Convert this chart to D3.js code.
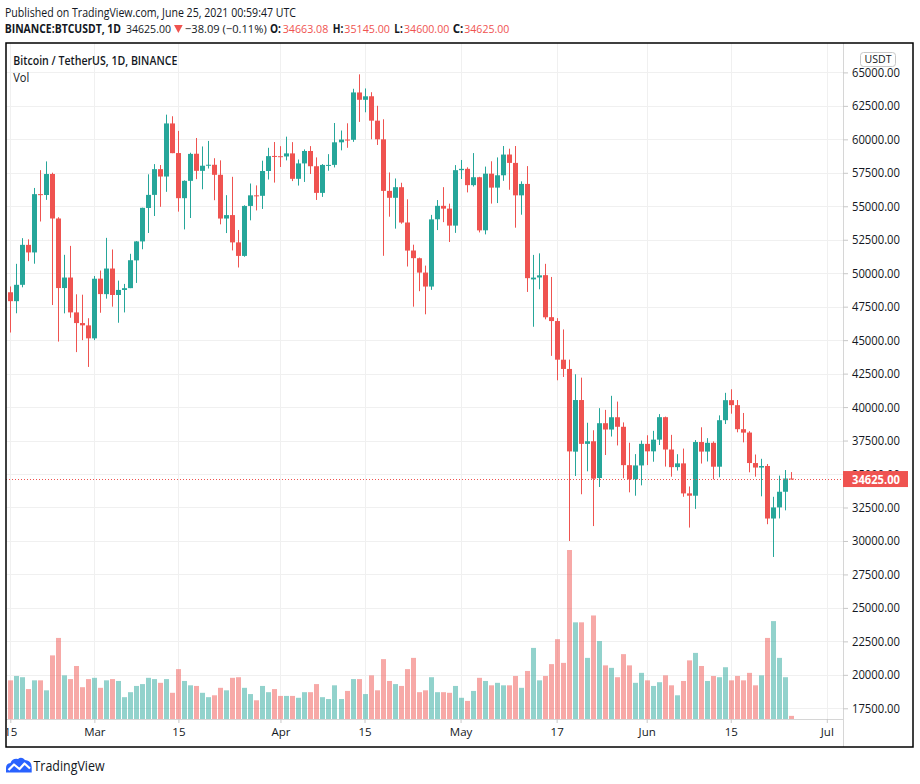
<!DOCTYPE html>
<html><head><meta charset="utf-8">
<script src="https://cdn.jsdelivr.net/npm/d3@7"></script>
<style>
html,body{margin:0;padding:0;background:#fff;}
svg{display:block;font-family:"Open Sans","Noto Sans",sans-serif;}
</style></head>
<body>
<svg id="c" width="920" height="784"></svg>
<script>
// ---- DATA (BINANCE:BTCUSDT, 1D, Feb 15 2021 - Jun 25 2021) ----
const startDay = "2021-02-15";
const endDay = "2021-06-25";
const open = [48577,47911,49133,52117,51552,55906,55841,57412,54087,48891,49677,47073,46277,46103,
45134,49595,48436,50349,48374,48747,48885,50959,52375,54874,55851,57773,57222,61188,58976,55605,56900,58925,57645,58030,58100,57351,54084,54342,52303,51293,55025,55817,55781,57635,58760,
58740,58720,58950,57051,58202,59129,57991,56000,58088,58092,59778,59985,59964,63501,62952,63217,61395,60001,56150,55633,56425,53788,51696,51119,50047,49004,54030,55033,54825,53555,
57697,57797,56578,57169,53205,57436,56393,57315,58866,58240,55816,56670,49538,49682,49855,46716,46427,43538,42849,36671,40526,37253,37449,34700,38796,38324,39241,38529,35661,34606,35641,
37253,36694,37568,39246,36829,35516,35796,33556,33380,37389,36677,37331,35546,39021,40517,40143,38349,38098,35820,35484,35601,31676,32505,33675,34663];
const high = [49010,50700,52618,52530,56368,57700,58352,57508,54183,51374,52041,48424,48395,46638,
49790,50200,52640,51773,49448,49200,51450,52402,54895,57387,58150,58081,61844,61724,60633,56938,58999,60100,59468,59880,58589,58430,55830,57200,53230,55073,56700,56559,58405,59368,59800,
59490,60200,59791,58492,59250,59495,58650,58153,58894,61220,60658,61199,63777,64854,63800,63520,62506,61500,57526,57076,56757,55521,52130,51166,50567,54356,55466,56428,55196,58075,
58458,57911,58973,57200,57963,58360,58650,59500,59300,59500,56862,58000,51367,51483,50700,49720,46643,45799,43547,42451,42200,38829,38270,39920,39791,40841,40411,38856,37338,36488,37499,
37894,38225,39476,39289,37925,36480,36900,34069,37534,38491,37680,37436,39380,41064,41330,40527,39560,38200,36457,36137,35750,33298,34881,35298,35145];
const low = [45570,47007,48947,50901,50710,53863,55477,47622,44892,47003,46674,44106,45000,43000,
45000,47047,48100,47500,46300,47070,48885,49274,51789,53005,54272,54962,56078,58966,54600,53271,54123,57025,56270,57820,55450,53650,53000,51700,50427,51229,53950,54691,54800,57000,56769,
57935,58428,56880,56547,56817,57413,55473,55700,57654,57902,59177,59369,59813,61301,62020,60000,59580,51300,54221,53329,53695,50500,47500,48657,46930,48753,53222,53813,52330,53013,
57037,56035,56478,53046,52900,55200,55241,56900,56235,53400,54370,48600,46000,48799,46555,43825,42001,42250,30000,34850,33488,35200,31111,34031,36419,37800,37134,34684,33632,33379,34153,
35667,35920,37170,35555,34800,35259,33300,31000,32396,35782,35936,34600,34757,38733,39506,38116,37365,35129,34803,33336,31251,28805,31683,32286,34600];
const close = [47911,49133,52119,51552,55906,55841,57408,54087,48891,49676,47073,46276,46106,45135,
49587,48440,50349,48374,48751,48882,50971,52375,54884,55851,57773,57221,61188,58968,55605,56900,58912,57648,58030,58102,57351,54083,54340,52303,51293,55025,55817,55777,57635,58746,58740,
58720,58950,57051,58202,59129,57991,56000,58088,58091,59778,59984,59964,63503,62954,63215,61395,60001,56150,55633,56425,53787,51690,51125,50047,49004,54021,55033,54824,53555,57697,
57797,56578,57169,53200,57436,56393,57314,58862,58240,55816,56670,49631,49671,49841,46708,46426,43541,42849,36690,40526,37252,37449,34655,38796,38324,39241,38529,35663,34605,35641,37253,
36694,37568,39246,36829,35513,35796,33552,33380,37388,36675,37331,35546,39020,40516,40144,38349,38092,35820,35483,35600,31676,32505,33675,34663,34625];
// volume, thousand BTC
const volume = [62,69,67,48,62,62,46,102,130,70, 64,85,51,64,66,50,62,64,61,35, 43,53,56,66,64,58,64,42,80,61,
54,53,42,35,38,50,46,66,67,50, 40,30,53,43,48,37,37,37,34,43, 43,56,35,32,54,32,45,64,64,40,
70,46,96,61,56,53,80,98,43,46, 67,43,43,42,53,34,29,45,66,61, 54,58,54,54,69,50,77,114,62,69,
88,128,90,271,155,155,98,166,125,86, 82,67,104,86,58,74,62,53,59,70, 54,38,61,94,106,85,61,69,67,83,
62,69,62,74,54,70,130,157,98,67, 5];
const priceTicks = [17500,20000,22500,25000,27500,30000,32500,35000,37500,40000,42500,45000,47500,50000,52500,55000,57500,60000,62500,65000];
const timeTickDates = ["2021-02-15","2021-03-01","2021-03-15","2021-04-01","2021-04-15","2021-05-01","2021-05-17","2021-06-01","2021-06-15","2021-07-01"];
const timeTickLabels = ["15","Mar","15","Apr","15","May","17","Jun","15","Jul"];
const lastPrice = 34625;

// ---- LAYOUT ----
const GREEN = "#26a69a", RED = "#ef5350";
const VGREEN = "rgba(38,166,154,0.5)", VRED = "rgba(239,83,80,0.5)";
const frame = {l:6, t:43, r:913, b:747};
const plot = {l:6, t:43, r:843, b:719};
const svg = d3.select("#c");
const parse = d3.utcParse("%Y-%m-%d");
const days = d3.utcDay.range(parse(startDay), d3.utcDay.offset(parse(endDay), 1));
const data = days.map((d,i)=>({date:d, o:open[i], h:high[i], l:low[i], c:close[i], v:volume[i]}));

const x = d3.scaleUtc().domain([parse("2021-02-15"), parse("2021-07-01")]).range([10.3, 826.8]);
const y = d3.scaleLinear().domain([17500, 65000]).range([708.3, 72.4]);
const yv = d3.scaleLinear().domain([0, 271]).range([plot.b, 550]);

const defs = svg.append("defs");
defs.append("clipPath").attr("id","pc")
  .append("rect").attr("x",plot.l).attr("y",plot.t).attr("width",plot.r-plot.l).attr("height",plot.b-plot.t);
defs.append("clipPath").attr("id","fc2")
  .append("rect").attr("x",frame.l+1).attr("y",-10).attr("width",plot.r-frame.l).attr("height",60);

// grid
const grid = svg.append("g").attr("clip-path","url(#pc)");
grid.selectAll(".hg").data(priceTicks).join("line")
  .attr("x1",plot.l).attr("x2",plot.r).attr("y1",d=>Math.round(y(d))+0.5).attr("y2",d=>Math.round(y(d))+0.5)
  .attr("stroke","#f0f0f0").attr("stroke-width",1);
grid.selectAll(".vg").data(timeTickDates.map(parse)).join("line")
  .attr("y1",plot.t).attr("y2",plot.b).attr("x1",d=>Math.round(x(d))+0.5).attr("x2",d=>Math.round(x(d))+0.5)
  .attr("stroke","#f0f0f0").attr("stroke-width",1);

// volume
const g = svg.append("g").attr("clip-path","url(#pc)");
g.selectAll(".vol").data(data).join("rect")
  .attr("x",d=>Math.round(x(d.date))-2).attr("width",5)
  .attr("y",d=>yv(d.v)).attr("height",d=>plot.b-yv(d.v))
  .attr("fill",d=>d.c>=d.o?VGREEN:VRED);

// candles
const cg = g.selectAll(".cd").data(data).join("g");
cg.append("line")
  .attr("x1",d=>Math.round(x(d.date))+0.5).attr("x2",d=>Math.round(x(d.date))+0.5)
  .attr("y1",d=>y(d.h)).attr("y2",d=>y(d.l))
  .attr("stroke",d=>d.c>=d.o?GREEN:RED).attr("stroke-width",1);
cg.append("rect")
  .attr("x",d=>Math.round(x(d.date))-2).attr("width",5)
  .attr("y",d=>y(Math.max(d.o,d.c)))
  .attr("height",d=>Math.max(1, Math.abs(y(d.o)-y(d.c))))
  .attr("fill",d=>d.c>=d.o?GREEN:RED);

// last price dotted line
svg.append("line").attr("x1",plot.l).attr("x2",plot.r)
  .attr("y1",Math.round(y(lastPrice))+0.5).attr("y2",Math.round(y(lastPrice))+0.5)
  .attr("stroke",RED).attr("stroke-width",1).attr("stroke-dasharray","1,2");

// separators
svg.append("line").attr("x1",frame.l).attr("x2",plot.r).attr("y1",plot.b+0.5).attr("y2",plot.b+0.5).attr("stroke","#d6d6d6");
svg.append("line").attr("x1",plot.r+0.5).attr("x2",plot.r+0.5).attr("y1",frame.t).attr("y2",frame.b).attr("stroke","#d6d6d6");

// price axis (label under the last-price badge is mostly hidden by it, as in the reference)
const ly = y(lastPrice);
const pa = svg.append("g").attr("transform",`translate(${plot.r},0)`)
  .call(d3.axisRight(y).tickValues(priceTicks).tickSize(5).tickPadding(4).tickFormat(d=>d.toFixed(2)));
pa.select(".domain").remove();
pa.selectAll(".tick line").attr("stroke","#c8c8c8");
pa.selectAll(".tick text").attr("fill","#131722").attr("font-size","12.5px")
  .attr("font-family","'Open Sans',sans-serif").attr("textLength",48).attr("lengthAdjust","spacingAndGlyphs");

// time axis
const ta = svg.append("g").attr("transform",`translate(0,${plot.b})`).attr("clip-path","url(#fc2)");
ta.call(d3.axisBottom(x).tickValues(timeTickDates.map(parse)).tickSize(4).tickPadding(5)
  .tickFormat((d,i)=>timeTickLabels[i]));
ta.select(".domain").remove();
ta.selectAll(".tick line").attr("stroke","#c8c8c8");
ta.selectAll(".tick text").attr("fill","#131722").attr("font-size","11.5px").attr("font-family","'Open Sans',sans-serif");

// last price label
svg.append("rect").attr("x",plot.r).attr("y",ly-8).attr("width",65).attr("height",16).attr("fill",RED);
svg.append("text").attr("x",plot.r+33).attr("y",ly+4.5).attr("text-anchor","middle")
  .attr("fill","#fff").attr("font-weight","bold").attr("font-size","13px").attr("textLength",48).attr("lengthAdjust","spacingAndGlyphs")
  .text(lastPrice.toFixed(2));

// USDT badge
svg.append("rect").attr("x",860.5).attr("y",52.5).attr("width",35).attr("height",14).attr("rx",3)
  .attr("fill","#fff").attr("stroke","#c8c8c8");
svg.append("text").attr("x",878).attr("y",63.3).attr("text-anchor","middle").attr("font-size","11px")
  .attr("fill","#131722").attr("textLength",27).attr("lengthAdjust","spacingAndGlyphs").text("USDT");

// frame
svg.append("rect").attr("x",frame.l).attr("y",frame.t).attr("width",frame.r-frame.l).attr("height",frame.b-frame.t)
  .attr("fill","none").attr("stroke","#000").attr("stroke-width",1.5);

// titles
svg.append("text").attr("x",5).attr("y",17).attr("font-size","12.5px").attr("fill","#131722")
  .attr("textLength",291).attr("lengthAdjust","spacingAndGlyphs")
  .text("Published on TradingView.com, June 25, 2021 00:59:47 UTC");
const line2 = [
  {t:"BINANCE:BTCUSDT, 1D", x0:4.7, x1:121, w:"bold", c:"#131722"},
  {t:"34625.00", x0:126, x1:171, w:"normal", c:"#131722"},
  {t:"\u221238.09 (\u22120.11%)", x0:185, x1:266.7, w:"normal", c:"#131722"},
  {t:"O:", x0:270, x1:281, w:"bold", c:"#131722"},
  {t:"34663.08", x0:282.7, x1:328.3, w:"normal", c:RED},
  {t:"H:", x0:332.7, x1:343.3, w:"bold", c:"#131722"},
  {t:"35145.00", x0:344.3, x1:390, w:"normal", c:RED},
  {t:"L:", x0:394.3, x1:402.7, w:"bold", c:"#131722"},
  {t:"34600.00", x0:404, x1:449.3, w:"normal", c:RED},
  {t:"C:", x0:452.7, x1:463.3, w:"bold", c:"#131722"},
  {t:"34625.00", x0:464.3, x1:509.3, w:"normal", c:RED}
];
svg.selectAll(".l2").data(line2).join("text")
  .attr("x",d=>d.x0).attr("y",33.3).attr("font-size","11.5px")
  .attr("font-weight",d=>d.w).attr("fill",d=>d.c)
  .attr("textLength",d=>d.x1-d.x0).attr("lengthAdjust","spacingAndGlyphs").text(d=>d.t);
// down-change triangle
svg.append("path").attr("d","M174,25 L182.7,25 L178.35,33 Z").attr("fill",RED);

svg.append("text").attr("x",13.3).attr("y",65).attr("font-size","12.5px").attr("font-weight","600").attr("fill","#131722")
  .attr("textLength",164).attr("lengthAdjust","spacingAndGlyphs").text("Bitcoin / TetherUS, 1D, BINANCE");
svg.append("text").attr("x",13.3).attr("y",81.7).attr("font-size","12.5px").attr("fill","#131722")
  .attr("textLength",16).attr("lengthAdjust","spacingAndGlyphs").text("Vol");

// footer logo
const lg = svg.append("g");
lg.append("path").attr("fill","#2962ff")
  .attr("d","M6,772.5 L6,768 Q6,763.5 10.5,763 Q12.5,758 18,759 Q21.5,756 25,760 Q31.5,760.5 31.7,767 L31.7,772.5 Z");
lg.append("polyline").attr("points","8.5,770 14,764.5 19.5,769 24.5,763.5 30,768.5")
  .attr("fill","none").attr("stroke","#fff").attr("stroke-width",2.2).attr("stroke-linejoin","round");
svg.append("text").attr("x",33.5).attr("y",770.5).attr("font-size","15px").attr("fill","#131722")
  .attr("textLength",71).attr("lengthAdjust","spacingAndGlyphs").text("TradingView");
</script>
</body></html>
